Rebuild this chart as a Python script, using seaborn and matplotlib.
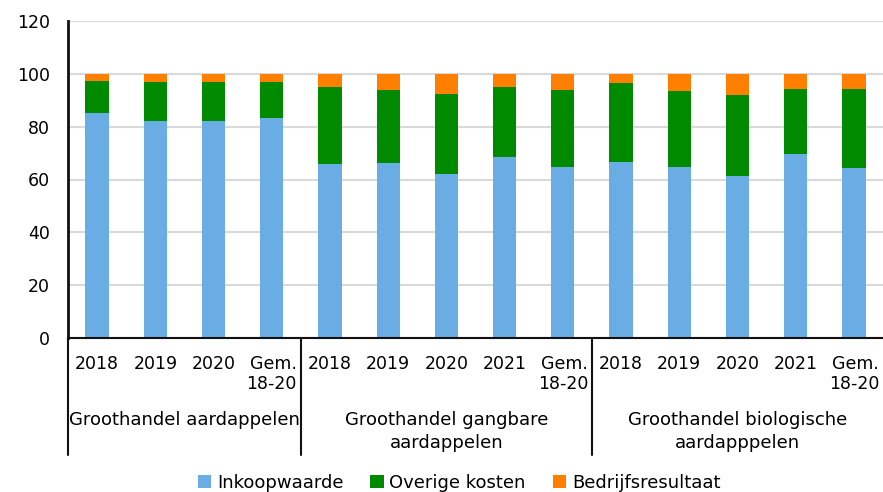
import matplotlib
matplotlib.use("Agg")
import matplotlib.pyplot as plt
import matplotlib.transforms as mtransforms
from matplotlib.patches import Patch
import seaborn as sns
import pandas as pd

# ---- data ----
years = ["2018", "2019", "2020", "Gem.\n18-20",
         "2018", "2019", "2020", "2021", "Gem.\n18-20",
         "2018", "2019", "2020", "2021", "Gem.\n18-20"]
groups = ["Groothandel aardappelen",
          "Groothandel gangbare\naardappelen",
          "Groothandel biologische\naardapppelen"]
group_sizes = [4, 5, 5]
inkoopwaarde = [85.2, 82.2, 82.2, 83.1,
                65.8, 66.2, 62.1, 68.7, 64.7,
                66.7, 64.8, 61.2, 69.7, 64.3]
overige_kosten = [11.9, 14.8, 14.8, 13.9,
                  29.3, 27.5, 30.2, 26.4, 29.0,
                  30.0, 28.6, 30.8, 24.5, 29.8]
bedrijfsresultaat = [2.9, 3.0, 3.0, 3.0,
                     4.9, 6.3, 7.7, 4.9, 6.3,
                     3.3, 6.6, 8.0, 5.8, 5.9]
series_names = ["Inkoopwaarde", "Overige kosten", "Bedrijfsresultaat"]
colors = ["#6aade4", "#008a00", "#ff7f00"]

ids = [f"c{i}" for i in range(len(years))]
df = pd.DataFrame({
    "id": ids,
    "s1": inkoopwaarde,
    "s2": [a + b for a, b in zip(inkoopwaarde, overige_kosten)],
    "s3": [a + b + c for a, b, c in zip(inkoopwaarde, overige_kosten, bedrijfsresultaat)],
})

sns.set_style("white")
plt.rcParams["font.family"] = ["DejaVu Sans"]
plt.rcParams["text.color"] = "black"
plt.rcParams["xtick.color"] = "black"
plt.rcParams["ytick.color"] = "black"
fig = plt.figure(figsize=(8.83, 4.92), dpi=100)
ax = fig.add_axes([68 / 883, 1 - 338 / 492, 1 - 68 / 883, (338 - 21) / 492])

for col, c in zip(["s3", "s2", "s1"], [colors[2], colors[1], colors[0]]):
    sns.barplot(data=df, x="id", y=col, order=ids, color=c, width=0.4,
                saturation=1, ax=ax, linewidth=0, errorbar=None)

ax.set_xlim(-0.5, len(ids) - 0.5)
ax.set_ylim(0, 120)
ax.set_yticks(range(0, 121, 20))
ax.yaxis.grid(True, color="#d9d9d9", linewidth=1.5)
ax.set_axisbelow(True)
ax.set_xlabel("")
ax.set_ylabel("")
ax.set_xticks(range(len(ids)))
ax.set_xticklabels(years, multialignment="right")
ax.tick_params(axis="x", length=0, pad=12, labelsize=12.5, colors="black")
ax.tick_params(axis="y", length=0, pad=13, labelsize=12.5, colors="black")
for s in ["top", "right"]:
    ax.spines[s].set_visible(False)
ax.spines["left"].set_color("#111111")
ax.spines["left"].set_linewidth(2)
ax.spines["bottom"].set_color("#111111")
ax.spines["bottom"].set_linewidth(1.5)

# group separators and labels
trans = mtransforms.blended_transform_factory(ax.transData, fig.transFigure)
y_top = 1 - 338 / 492
y_bot = 1 - 455 / 492
start = 0
bounds = [-0.5]
for g, n in zip(groups, group_sizes):
    end = start + n
    bounds.append(end - 0.5)
    center = (start + end - 1) / 2
    ax.text(center, 1 - 411 / 492, g, transform=trans, ha="center", va="top",
            fontsize=13, linespacing=1.35, clip_on=False, color="black")
    start = end
for b in bounds[:-1]:
    ax.plot([b, b], [y_top, y_bot], transform=trans, color="#111111",
            linewidth=1.5, clip_on=False)

handles = [Patch(facecolor=c, edgecolor="none") for c in colors]
fig.legend(handles, series_names, loc="center", bbox_to_anchor=(0.52, 1 - 483 / 492),
           ncol=3, frameon=False, fontsize=13, handlelength=0.75, handleheight=0.75,
           handletextpad=0.3, columnspacing=1.5)

fig.savefig("out.png", dpi=100)
